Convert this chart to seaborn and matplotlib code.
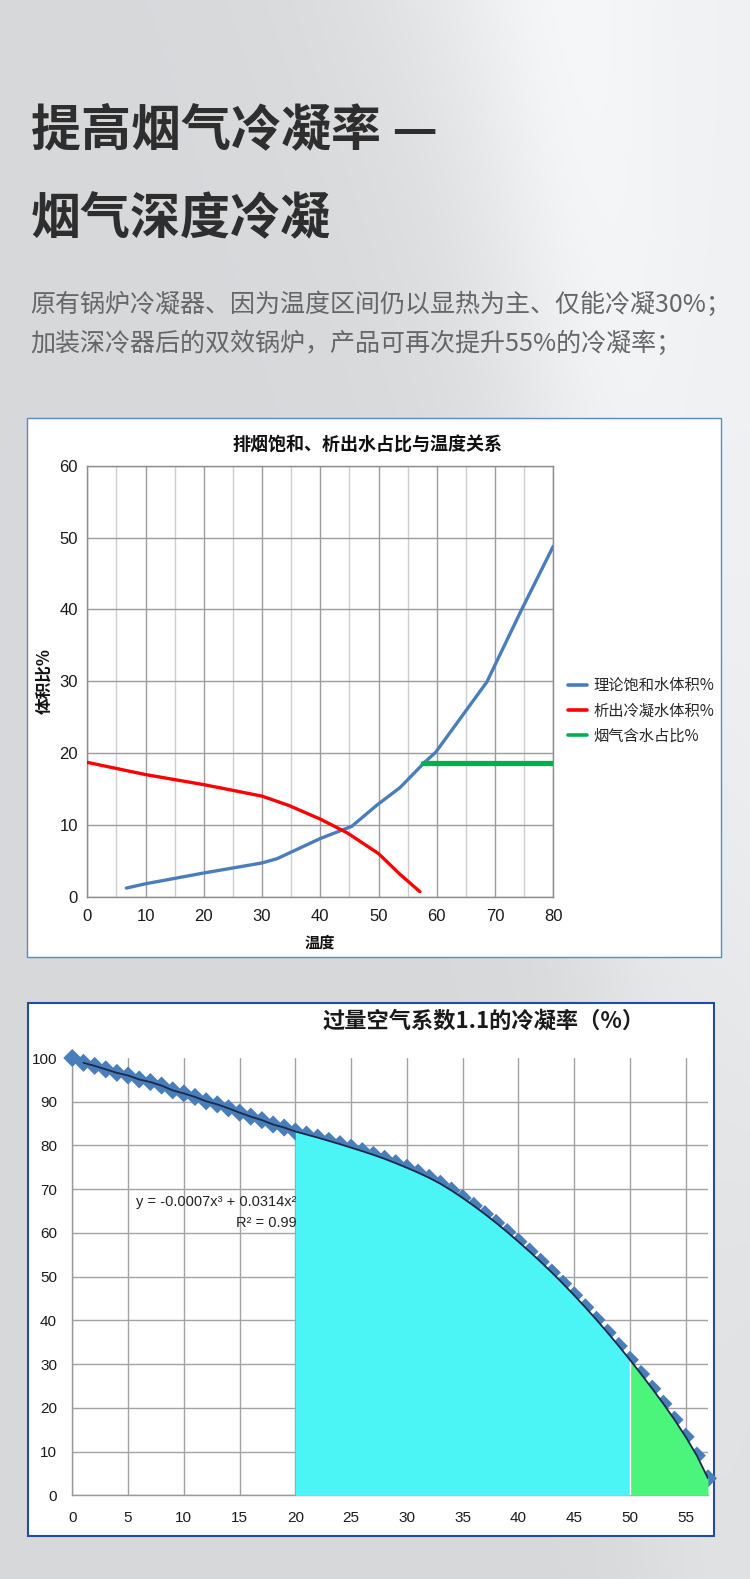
import numpy as np
import pandas as pd
import matplotlib
matplotlib.use('Agg')
import matplotlib.pyplot as plt
import seaborn as sns
from matplotlib.patches import Rectangle

# ---------------- data ----------------
header_line1 = '提高烟气冷凝率 —'
header_line2 = '烟气深度冷凝'
sub_line1 = '原有锅炉冷凝器、因为温度区间仍以显热为主、仅能冷凝30%；'
sub_line2 = '加装深冷器后的双效锅炉，产品可再次提升55%的冷凝率；'

c1_title = '排烟饱和、析出水占比与温度关系'
c1_xlabel = '温度'
c1_ylabel = '体积比%'
c1_series = ['理论饱和水体积%', '析出冷凝水体积%', '烟气含水占比%']
sat_t = [6.7, 10, 20, 30, 32.6, 40, 45.4, 49.8, 53.7, 57.9, 59.8, 68.6, 74.4, 80]
sat_v = [1.2, 1.8, 3.3, 4.7, 5.3, 8.1, 9.8, 12.8, 15.2, 18.7, 20.1, 29.9, 39.7, 48.8]
cond_t = [0, 10, 20, 30, 34.6, 40, 44.6, 50, 53.7, 57.1]
cond_v = [18.7, 17.0, 15.6, 14.0, 12.7, 10.8, 8.9, 6.0, 3.1, 0.7]
flue_t = [57.7, 80]
flue_v = [18.6, 18.6]
c1_xticks = [0, 10, 20, 30, 40, 50, 60, 70, 80]
c1_xminor = [5, 15, 25, 35, 45, 55, 65, 75]
c1_yticks = [0, 10, 20, 30, 40, 50, 60]

c2_title = '过量空气系数1.1的冷凝率（%）'
c2_temp = list(range(0, 58))
c2_rate = [100.0, 98.9, 98.2, 97.4, 96.6, 96.0, 95.1, 94.5, 93.7, 92.6,
           91.9, 91.1, 90.1, 89.4, 88.5, 87.5, 86.6, 85.8, 84.8, 84.1,
           83.2, 82.5, 81.8, 81.05, 80.3, 79.5, 78.7, 77.85, 76.95, 75.95,
           74.9, 73.8, 72.6, 71.25, 69.7, 68.0, 66.2, 64.3, 62.3, 60.2,
           58.0, 55.75, 53.4, 50.95, 48.4, 45.75, 43.0, 40.15, 37.2, 34.15,
           31.0, 27.75, 24.4, 20.95, 17.3, 13.4, 9.1, 3.9]
c2_eq = 'y = -0.0007x³ + 0.0314x²'
c2_r2 = 'R² = 0.99'
c2_xticks = [0, 5, 10, 15, 20, 25, 30, 35, 40, 45, 50, 55]
c2_yticks = [0, 10, 20, 30, 40, 50, 60, 70, 80, 90, 100]
band_mid = (20, 50)
band_hi = (50, 57)

# ---------------- style ----------------
sns.set_theme(style='white')
CJK = 'Noto Sans CJK SC'
plt.rcParams['font.family'] = [CJK, 'DejaVu Sans']
plt.rcParams['axes.unicode_minus'] = False
NUM1 = ['Liberation Sans Narrow', 'Liberation Sans', 'DejaVu Sans']
NUM2 = ['Liberation Sans', 'DejaVu Sans']

W, H = 750, 1579
fig = plt.figure(figsize=(W / 100, H / 100), dpi=100)
fig.patch.set_facecolor('#e4e5e7')


def fx(px):
    return px / W


def fy(py):
    return 1 - py / H


# background gradient (decorative)
bg = fig.add_axes([0, 0, 1, 1], zorder=-10)
yy, xx = np.mgrid[0:H:3, 0:W:3].astype(float)
xc = 420 + 0.32 * yy
v = 0.845 + 0.10 * (1 / (1 + np.exp(-(xx - xc) / 70)))
v += 0.03 * np.exp(-((xx - (560 + 0.1 * yy)) / 90) ** 2)
v = np.clip(v, 0, 1)
img = np.dstack([v, v + 0.004, v + 0.012])
img = np.clip(img, 0, 1)
bg.imshow(img, aspect='auto', extent=[0, W, H, 0], interpolation='bicubic')
bg.set_xlim(0, W)
bg.set_ylim(H, 0)
bg.axis('off')

# header texts
fig.text(fx(31), fy(131), header_line1, fontsize=36, fontweight='bold',
         color='#2e2e2e', ha='left', va='center')
fig.text(fx(31), fy(220), header_line2, fontsize=36, fontweight='bold',
         color='#2e2e2e', ha='left', va='center')
fig.text(fx(30), fy(305), sub_line1, fontsize=18, color='#666666',
         ha='left', va='center')
fig.text(fx(30), fy(344), sub_line2, fontsize=18, color='#666666',
         ha='left', va='center')

# frames
fig.patches.append(Rectangle((fx(27), fy(957)), (721 - 27) / W, (957 - 418) / H,
                             transform=fig.transFigure, facecolor='white',
                             edgecolor='#5b8bc5', lw=1.0, zorder=0))
fig.patches.append(Rectangle((fx(27.7), fy(1535.7)), (714 - 27.7) / W, (1535.7 - 1002.7) / H,
                             transform=fig.transFigure, facecolor='white',
                             edgecolor='#1f4f9c', lw=1.5, zorder=0))

# ---------------- chart 1 ----------------
ax1 = fig.add_axes([fx(87.3), fy(896.7), (553.3 - 87.3) / W, (896.7 - 465.7) / H], zorder=2)
ax1.set_facecolor('white')
df_sat = pd.DataFrame({'t': sat_t, 'v': sat_v})
df_cond = pd.DataFrame({'t': cond_t, 'v': cond_v})
df_flue = pd.DataFrame({'t': flue_t, 'v': flue_v})
sns.lineplot(data=df_sat, x='t', y='v', ax=ax1, color='#4a7ebb', lw=2.4,
             estimator=None, sort=False, label=c1_series[0], zorder=3)
sns.lineplot(data=df_cond, x='t', y='v', ax=ax1, color='#ff0000', lw=2.4,
             estimator=None, sort=False, label=c1_series[1], zorder=3)
sns.lineplot(data=df_flue, x='t', y='v', ax=ax1, color='#00b050', lw=3.8,
             estimator=None, sort=False, label=c1_series[2], zorder=3)
ax1.set_xlim(0, 80)
ax1.set_ylim(0, 60)
ax1.set_xticks(c1_xticks)
ax1.set_xticks(c1_xminor, minor=True)
ax1.set_yticks(c1_yticks)
ax1.grid(which='major', color='#9c9c9c', lw=1.0)
ax1.grid(which='minor', axis='x', color='#cfcfcf', lw=1.0)
ax1.set_axisbelow(True)
for s in ax1.spines.values():
    s.set_color('#8c8c8c')
    s.set_linewidth(1.0)
ax1.tick_params(axis='both', which='both', length=0)
ax1.tick_params(axis='x', pad=8.5, labelsize=12, labelcolor='#1a1a1a')
ax1.tick_params(axis='y', pad=6.8, labelsize=12, labelcolor='#1a1a1a')
for lab in ax1.get_xticklabels() + ax1.get_yticklabels():
    lab.set_family(NUM1)
ax1.set_xlabel(c1_xlabel, fontsize=11, fontweight='bold', color='#111111', va='center')
ax1.set_ylabel(c1_ylabel, fontsize=12, fontweight='bold', color='#111111', va='center')
ax1.xaxis.set_label_coords(0.5, (896.7 - 943) / 431)
ax1.yaxis.set_label_coords((44 - 87.3) / 466, 0.5)
handles, labels = ax1.get_legend_handles_labels()
if ax1.legend_:
    ax1.legend_.remove()
leg = fig.legend(handles, labels, loc='upper left', bbox_to_anchor=(fx(568), fy(677)),
                 bbox_transform=fig.transFigure, frameon=False, fontsize=11,
                 handlelength=1.25, handletextpad=0.4, labelspacing=0.55,
                 borderpad=0, borderaxespad=0)
leg.set_zorder(5)
for ln in leg.get_lines():
    ln.set_linewidth(2.6)
fig.text(fx(367), fy(445), c1_title, fontsize=13, fontweight='bold',
         color='#111111', ha='center', va='center')

# ---------------- chart 2 ----------------
ax2 = fig.add_axes([fx(72.3), fy(1495.4), (708 - 72.3) / W, (1495.4 - 1058) / H], zorder=2)
ax2.set_facecolor('white')
df2 = pd.DataFrame({'t': c2_temp, 'r': c2_rate})
sns.scatterplot(data=df2, x='t', y='r', marker='D', s=85, color='#4a7ebb',
                edgecolor='none', ax=ax2, zorder=3, clip_on=False)
mid = df2[(df2.t >= band_mid[0]) & (df2.t <= band_mid[1])]
hi = df2[(df2.t >= band_hi[0]) & (df2.t <= band_hi[1])]
ax2.fill_between(mid.t, 0, mid.r, color='#4bf5f6', lw=0, zorder=4)
ax2.fill_between(hi.t, 0, hi.r, color='#4bf47b', lw=0, zorder=4, clip_on=False)
ax2.vlines(hi.t.iloc[0], 0, hi.r.iloc[0], color='white', lw=1.0, zorder=4.5)
trend = df2[df2.t >= 1]
sns.lineplot(data=trend, x='t', y='r', ax=ax2, color='#1b2a48', lw=1.3,
             estimator=None, sort=False, zorder=5)
ax2.text(20.05, 67.1, c2_eq, ha='right', va='center', fontsize=10.5,
         family=NUM1, color='#222222', zorder=3.5)
ax2.text(20.1, 62.3, c2_r2, ha='right', va='center', fontsize=10.5,
         family=NUM1, color='#222222', zorder=3.5)
ax2.set_xlim(0, 57)
ax2.set_ylim(0, 100)
ax2.set_xticks(c2_xticks)
ax2.set_yticks(c2_yticks)
ax2.grid(color='#a3a3a3', lw=1.0)
ax2.set_axisbelow(True)
ax2.yaxis.get_major_ticks()[-1].gridline.set_visible(False)
ax2.spines['top'].set_visible(False)
ax2.spines['right'].set_visible(False)
for k in ['left', 'bottom']:
    ax2.spines[k].set_color('#9a9a9a')
    ax2.spines[k].set_linewidth(1.0)
ax2.tick_params(axis='both', length=0, labelsize=11, labelcolor='#1a1a1a')
ax2.tick_params(axis='x', pad=11)
ax2.tick_params(axis='y', pad=11)
for lab in ax2.get_xticklabels() + ax2.get_yticklabels():
    lab.set_family(NUM2)
ax2.set_xlabel('')
ax2.set_ylabel('')
fig.text(fx(484), fy(1021), c2_title, fontsize=16, fontweight='bold',
         color='#1a1a1a', ha='center', va='center')

fig.savefig('out.png', dpi=100)
